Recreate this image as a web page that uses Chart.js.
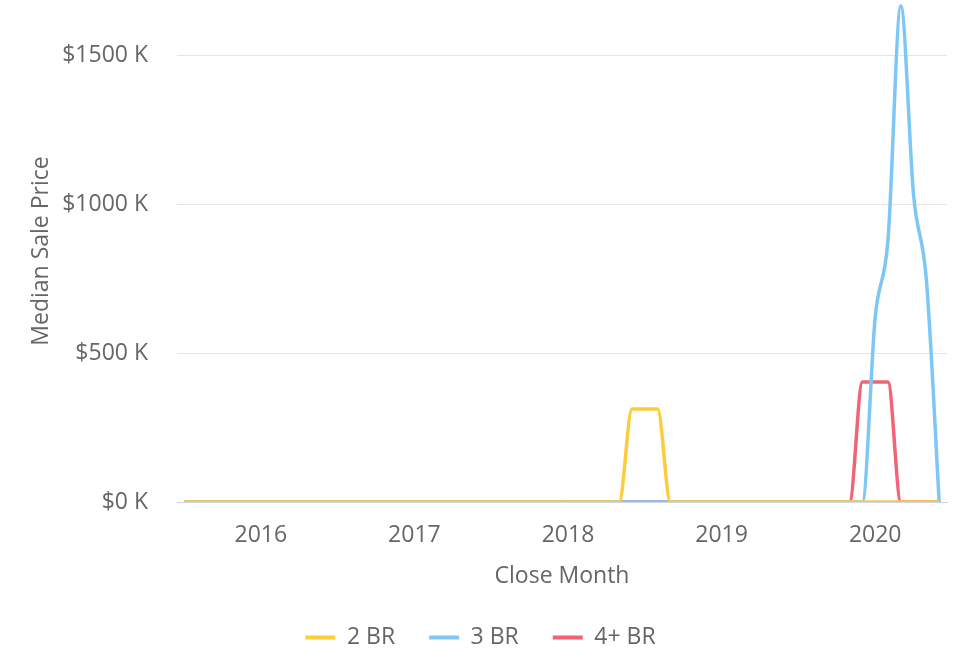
<!DOCTYPE html>
<html>
<head>
  <title>Median Sale Price by Bedrooms</title>
  <script src="https://cdn.jsdelivr.net/npm/chart.js"></script>
  <style>
    body { margin: 0; background: #fff; }
  </style>
</head>
<body>
  <canvas id="priceChart" width="953" height="660"></canvas>

  <script>
    // Close months, Jul 2015 .. Jun 2020
    const months = [
      '2015-07', '2015-08', '2015-09', '2015-10', '2015-11', '2015-12',
      '2016-01', '2016-02', '2016-03', '2016-04', '2016-05', '2016-06',
      '2016-07', '2016-08', '2016-09', '2016-10', '2016-11', '2016-12',
      '2017-01', '2017-02', '2017-03', '2017-04', '2017-05', '2017-06',
      '2017-07', '2017-08', '2017-09', '2017-10', '2017-11', '2017-12',
      '2018-01', '2018-02', '2018-03', '2018-04', '2018-05', '2018-06',
      '2018-07', '2018-08', '2018-09', '2018-10', '2018-11', '2018-12',
      '2019-01', '2019-02', '2019-03', '2019-04', '2019-05', '2019-06',
      '2019-07', '2019-08', '2019-09', '2019-10', '2019-11', '2019-12',
      '2020-01', '2020-02', '2020-03', '2020-04', '2020-05', '2020-06'
    ];

    // Median sale price in $K
    const br2 = [
      0, 0, 0, 0, 0, 0,
      0, 0, 0, 0, 0, 0,
      0, 0, 0, 0, 0, 0,
      0, 0, 0, 0, 0, 0,
      0, 0, 0, 0, 0, 0,
      0, 0, 0, 0, 0, 312,
      312, 312, 0, 0, 0, 0,
      0, 0, 0, 0, 0, 0,
      0, 0, 0, 0, 0, 0,
      0, 0, 0, 0, 0, 0
    ];
    const br3 = [
      0, 0, 0, 0, 0, 0,
      0, 0, 0, 0, 0, 0,
      0, 0, 0, 0, 0, 0,
      0, 0, 0, 0, 0, 0,
      0, 0, 0, 0, 0, 0,
      0, 0, 0, 0, 0, 0,
      0, 0, 0, 0, 0, 0,
      0, 0, 0, 0, 0, 0,
      0, 0, 0, 0, 0, 0,
      620, 880, 1665, 1030, 745, 0
    ];
    const br4 = [
      0, 0, 0, 0, 0, 0,
      0, 0, 0, 0, 0, 0,
      0, 0, 0, 0, 0, 0,
      0, 0, 0, 0, 0, 0,
      0, 0, 0, 0, 0, 0,
      0, 0, 0, 0, 0, 0,
      0, 0, 0, 0, 0, 0,
      0, 0, 0, 0, 0, 0,
      0, 0, 0, 0, 0, 403,
      403, 403, 0, 0, 0, 0
    ];

    const seriesNames = ['2 BR', '3 BR', '4+ BR'];
    const seriesColors = ['#fdcc3c', '#7dc7f7', '#f16476'];

    const yearTicks = ['2016', '2017', '2018', '2019', '2020'];
    const priceTicks = [0, 500, 1000, 1500];

    const FONT = "'Open Sans', sans-serif";
    const GREY = '#666666';

    // x = month index, ticks sit on January of each year
    const toPoints = values => values.map((v, i) => ({ x: i, y: v }));
    const yearIndex = yearTicks.map(y => months.indexOf(y + '-01'));

    // keep tick label overflow from shrinking the plot area
    const noPad = s => { s.paddingTop = 0; s.paddingBottom = 0; s.paddingLeft = 0; s.paddingRight = 0; };

    const ctx = document.getElementById('priceChart').getContext('2d');
    new Chart(ctx, {
      type: 'line',
      data: {
        datasets: [br2, br3, br4].map((vals, i) => ({
          label: seriesNames[i],
          data: toPoints(vals),
          borderColor: seriesColors[i],
          backgroundColor: seriesColors[i],
          borderWidth: 3.5,
          pointRadius: 0,
          pointHoverRadius: 0,
          fill: false,
          cubicInterpolationMode: 'monotone'
        }))
      },
      options: {
        responsive: false,
        animation: false,
        devicePixelRatio: 1,
        layout: {
          padding: { left: 14, right: 6, top: 0, bottom: 1 }
        },
        plugins: {
          tooltip: { enabled: false },
          legend: {
            position: 'bottom',
            labels: {
              boxWidth: 30,
              boxHeight: 4,
              padding: 34,
              color: GREY,
              font: { family: FONT, size: 23 },
              generateLabels: chart =>
                Chart.defaults.plugins.legend.labels.generateLabels(chart)
                  .map(l => Object.assign(l, { lineWidth: 0 }))
            }
          }
        },
        scales: {
          x: {
            type: 'linear',
            min: -0.547,
            max: 59.61,
            afterFit: s => { s.height = 90; noPad(s); },
            afterBuildTicks: s => { s.ticks = yearIndex.map(v => ({ value: v })); },
            grid: { display: false, drawTicks: false },
            border: { display: true, color: '#ccd6eb', width: 1 },
            ticks: {
              padding: 20,
              color: GREY,
              font: { family: FONT, size: 23 },
              maxRotation: 0,
              callback: v => yearTicks[yearIndex.indexOf(v)]
            },
            title: {
              display: true,
              text: 'Close Month',
              color: GREY,
              font: { family: FONT, size: 23, lineHeight: 1 },
              padding: { top: 0, bottom: 4 }
            }
          },
          y: {
            min: 0,
            max: 1684.6,
            afterFit: s => { s.width = 163; noPad(s); },
            afterBuildTicks: s => { s.ticks = priceTicks.map(v => ({ value: v })); },
            grid: {
              color: c => (c.tick && c.tick.value === 0 ? 'rgba(0,0,0,0)' : '#e6e6e6'),
              lineWidth: 1,
              drawTicks: false
            },
            border: { display: false },
            ticks: {
              padding: 29,
              color: GREY,
              font: { family: FONT, size: 23 },
              callback: v => '$' + v + ' K'
            },
            title: {
              display: true,
              text: 'Median Sale Price',
              color: GREY,
              font: { family: FONT, size: 23, lineHeight: 1 },
              padding: { top: 16, bottom: 0 }
            }
          }
        }
      }
    });
  </script>
</body>
</html>
